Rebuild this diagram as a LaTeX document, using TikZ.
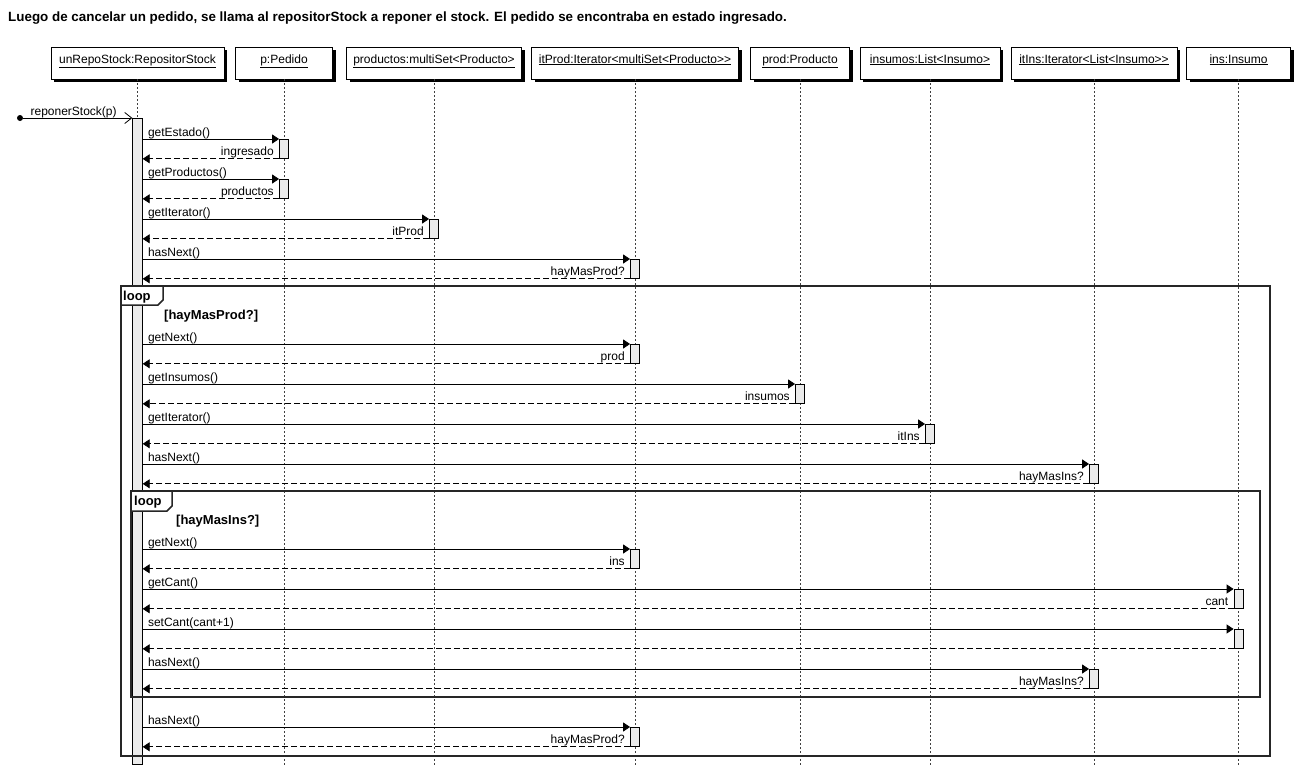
\documentclass[tikz,border=0pt]{standalone}
\usepackage{fontspec}
\setmainfont{Liberation Sans}
\usetikzlibrary{arrows.meta,shadows}
\newcommand\seqmsg[5]{%
  \node[act, minimum height=19pt] (#1) at (#2,#3) {};
  \draw[call] (A.east |- #1.north) -- node[lbl, pos=0, anchor=base west, xshift=5pt, yshift=3pt]{#4} (#1.north west);
  \draw[ret] (#1.south west) -- node[lbl, pos=0, anchor=base east, xshift=-5pt, yshift=3pt]{#5} (A.east |- #1.south);
}
\begin{document}
\begin{tikzpicture}[x=1pt,y=-1pt, font=\fontsize{12}{14}\selectfont,
  hdr/.style={draw=black, fill=white, line width=0.8pt, minimum height=32pt, inner sep=0pt,
    drop shadow={shadow xshift=3pt, shadow yshift=-3pt, opacity=1, fill=black}},
  hdrtext/.style={inner sep=0pt, anchor=base},
  act/.style={draw=black, fill=black!8, line width=0.8pt, minimum width=9pt, inner sep=0pt, anchor=north},
  call/.style={draw=black, line width=0.8pt, -{Triangle[length=7pt,width=9pt]}},
  ret/.style={draw=black, line width=0.8pt, dash pattern=on 6pt off 3pt, -{Triangle[length=7pt,width=9pt]}},
  lifeline/.style={draw=black!75, line width=0.6pt, dash pattern=on 2pt off 2pt},
  frame/.style={draw=black!85, line width=1.8pt},
  tab/.style={draw=black!85, line width=1.5pt, fill=white},
  lbl/.style={inner sep=0pt},
  bold/.style={inner sep=0pt, font=\fontsize{13}{15}\selectfont\bfseries},
]
\useasboundingbox[fill=white] (0,0) rectangle (1300,769);

% title
\node[anchor=west, inner sep=0pt, font=\fontsize{13.4}{15}\selectfont\bfseries] (title) at (8,18)
  {Luego de cancelar un pedido, se llama al repositorStock a reponer el stock. El pedido se encontraba en estado ingresado.};

% headers
\node[hdr, minimum width=173pt] (h1) at (137.5,63) {};
\node[hdr, minimum width=97pt]  (h2) at (284,63) {};
\node[hdr, minimum width=175pt] (h3) at (434,63) {};
\node[hdr, minimum width=207pt] (h4) at (635,63) {};
\node[hdr, minimum width=99pt]  (h5) at (800,63) {};
\node[hdr, minimum width=140pt] (h6) at (930,63) {};
\node[hdr, minimum width=166pt] (h7) at (1094,63) {};
\node[hdr, minimum width=104pt] (h8) at (1238.5,63) {};
\node[hdrtext] (t1) at (137.5,63) {\underline{unRepoStock:RepositorStock}};
\node[hdrtext] (t2) at (284,63) {\underline{p:Pedido}};
\node[hdrtext] (t3) at (434,63) {\underline{productos:multiSet<Producto>}};
\node[hdrtext] (t4) at (635,63) {\underline{itProd:Iterator<multiSet<Producto>{}>}};
\node[hdrtext] (t5) at (800,63) {\underline{prod:Producto}};
\node[hdrtext] (t6) at (930,63) {\underline{insumos:List<Insumo>}};
\node[hdrtext] (t7) at (1094,63) {\underline{itIns:Iterator<List<Insumo>{}>}};
\node[hdrtext] (t8) at (1238.5,63) {\underline{ins:Insumo}};

% lifelines
\foreach \h in {h1,h2,h3,h4,h5,h6,h7,h8}
  \draw[lifeline] (\h.south) -- ++(0,686);

% main activation
\node[act, minimum width=9.5pt, minimum height=646pt] (A) at (137.5,118) {};

% frames
\draw[frame] (121,286) rectangle (1270,756);
\draw[tab] (121,286) -- (163,286) -- (163,300) -- (158,305) -- (121,305) -- cycle;
\node[bold, anchor=west] (loop1) at (123,297.5) {loop};
\node[bold, anchor=west] (g1) at (164,316) {[hayMasProd?]};

\draw[frame] (131,491) rectangle (1260,697);
\draw[tab] (131,491) -- (172,491) -- (172,506) -- (167,511) -- (131,511) -- cycle;
\node[bold, anchor=west] (loop2) at (134,502.5) {loop};
\node[bold, anchor=west] (g2) at (176,521) {[hayMasIns?]};

% initial message
\node[circle, fill=black, inner sep=0pt, minimum size=6pt] (s0) at (20,118) {};
\draw[line width=0.8pt, -{Straight Barb[length=7pt,width=11pt]}] (s0) --
  node[lbl, pos=0, anchor=base west, xshift=7pt, yshift=3pt]{reponerStock(p)} (A.north west);

% messages
\seqmsg{b1}{284}{139}{getEstado()}{ingresado}
\seqmsg{b2}{284}{179}{getProductos()}{productos}
\seqmsg{b3}{434}{219}{getIterator()}{itProd}
\seqmsg{b4}{635}{259}{hasNext()}{hayMasProd?}
\seqmsg{b5}{635}{344}{getNext()}{prod}
\seqmsg{b6}{800}{384}{getInsumos()}{insumos}
\seqmsg{b7}{930}{424}{getIterator()}{itIns}
\seqmsg{b8}{1094}{464}{hasNext()}{hayMasIns?}
\seqmsg{b9}{635}{549}{getNext()}{ins}
\seqmsg{b10}{1238.5}{589}{getCant()}{cant}
\seqmsg{b11}{1238.5}{629}{setCant(cant+1)}{}
\seqmsg{b12}{1094}{669}{hasNext()}{hayMasIns?}
\seqmsg{b13}{635}{727}{hasNext()}{hayMasProd?}
\end{tikzpicture}
\end{document}
